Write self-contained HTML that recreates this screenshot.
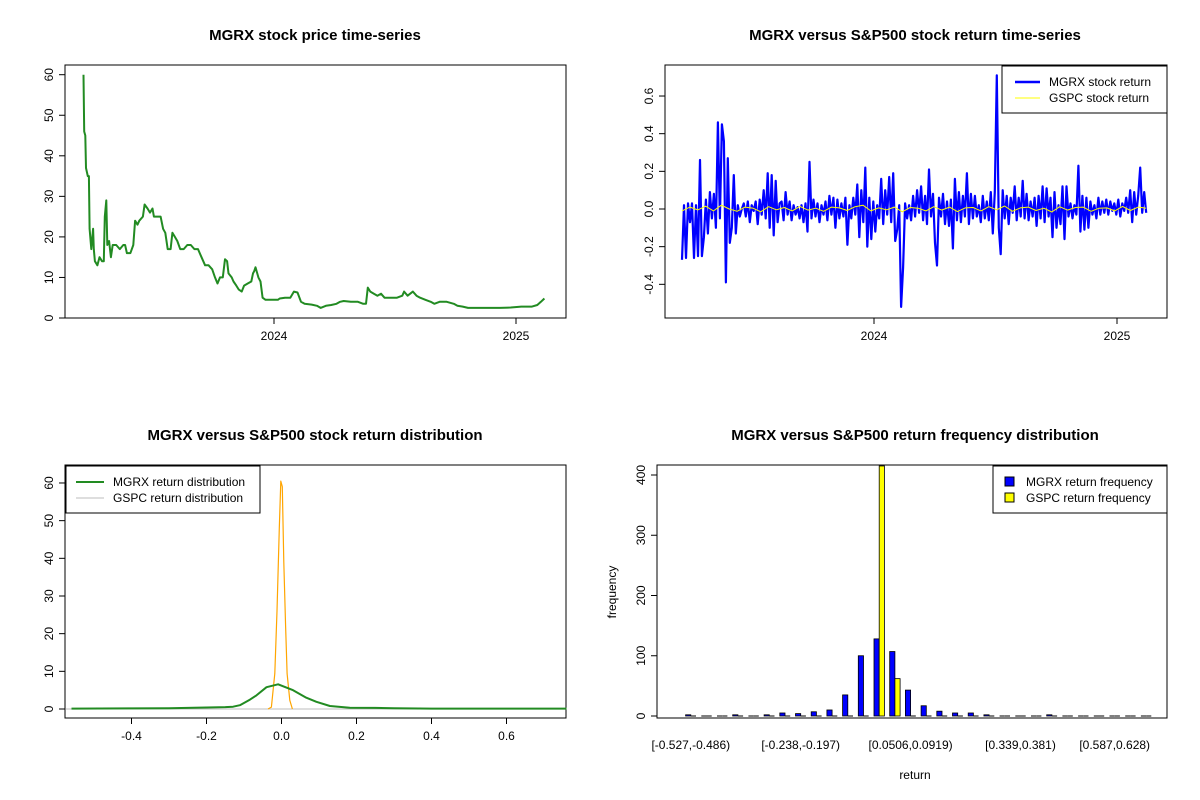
<!DOCTYPE html>
<html><head><meta charset="utf-8"><style>
html,body{margin:0;padding:0;background:#fff}
svg{display:block;font-family:"Liberation Sans",Arial,sans-serif}
</style></head><body>
<svg id="chart" width="1200" height="800" viewBox="0 0 1200 800" xmlns="http://www.w3.org/2000/svg">
<rect x="0" y="0" width="1200" height="800" fill="#fff"/>
<text x="315" y="40" text-anchor="middle" font-size="15" font-weight="bold">MGRX stock price time-series</text>
<text x="915" y="40" text-anchor="middle" font-size="15" font-weight="bold">MGRX versus S&amp;P500 stock return time-series</text>
<text x="315" y="440" text-anchor="middle" font-size="15" font-weight="bold">MGRX versus S&amp;P500 stock return distribution</text>
<text x="915" y="440" text-anchor="middle" font-size="15" font-weight="bold">MGRX versus S&amp;P500 return frequency distribution</text>
<g id="p1"></g>
<g id="p2"></g>
<g id="p3"></g>
<g id="p4"></g>
</svg>
<script>
// ---- Price series (zoom-x position converted to year, price) ----
const priceYearPos = [148,150,153,155,160,163,165,170,175,177,180,187,193,200,205,208,212,215,220,225,230,240,250,260,265,270,280,288,293,300,305,315,320,328,335,342,346,355,365,372,378,385,393,398,405,412,420,430,440,450,460,470,480,490,500,510,518,525,532,540,546,552,556,565,570,578,585,593,600,610,620,625,628,632,640,646,652,660,670,680,695,700,715,730,740,750,760,770,790,805,815,830,845,860,870,880,900,920,935,943,948,955,965,975,985,995,1010,1030,1045,1050,1060,1075,1085,1095,1110,1125,1135,1150,1170,1190,1200,1215,1230,1260,1290,1320,1350,1380,1410,1425,1435,1445];
const priceValues = [60,46,45,37,35,35,22,17,22,17,14,13,15,14,14,25,29,18,19,15,18,18,17,18,18,16,16,18,24,23,24,25,28,27,26,27,25,25,25,22,21,17,17,21,20,19,17,17,18,18,17,17,15,13,13,12,10,8.5,10,10,14.5,14,11,10,9,8,7,6.5,8,8.5,9,11,11.5,12.5,10,9,5,4.5,4.5,4.5,4.5,4.8,5,5,6.5,6.3,4,3.5,3.3,3,2.5,3,3.2,3.5,4,4.2,4,4,3.5,3.5,7.5,6.5,6,5.5,6,5,5,5,5.5,6.5,5.5,6.5,5.5,5,4.5,4,3.5,4,4,3.5,3,2.8,2.5,2.5,2.5,2.5,2.6,2.8,2.8,3.2,4,4.8];
const priceYTicks = [0,10,20,30,40,50,60];
const yearTicks = [2024,2025];
// ---- Return series ----
const mgrxReturns = [-0.27,0.02,-0.26,0.03,-0.07,0.03,-0.26,0.02,-0.25,0.26,-0.25,-0.15,0.05,-0.13,0.09,-0.05,0.08,-0.1,0.46,-0.05,0.45,0.36,-0.39,0.27,-0.18,-0.1,0.18,-0.13,0.02,-0.04,0.0,0.03,-0.04,0.04,-0.07,0.02,-0.01,0.04,-0.08,0.05,-0.03,0.1,-0.05,0.19,-0.1,0.18,-0.14,0.15,-0.07,0.03,0.04,-0.06,0.09,-0.03,0.04,-0.06,0.02,-0.03,0.01,-0.05,0.02,-0.07,0.03,-0.12,0.25,-0.05,0.05,-0.04,0.03,-0.07,0.02,-0.03,0.04,-0.06,0.07,-0.03,0.06,-0.1,0.05,-0.05,0.03,-0.04,0.06,-0.19,0.02,-0.05,0.06,-0.03,0.13,-0.15,0.1,-0.07,0.22,-0.2,0.06,-0.16,0.04,-0.12,0.02,-0.05,0.16,-0.08,0.1,-0.03,0.17,-0.07,0.19,-0.17,-0.11,0.02,-0.52,-0.31,0.03,-0.05,0.02,-0.06,0.07,-0.04,0.1,-0.02,0.12,-0.06,0.07,-0.08,0.21,-0.04,0.08,-0.18,-0.3,0.06,-0.04,0.08,-0.08,0.04,-0.09,0.05,-0.21,0.16,-0.06,0.09,-0.07,0.07,-0.04,0.19,-0.08,0.08,-0.05,0.07,-0.04,0.02,-0.07,0.07,-0.05,0.04,-0.06,0.09,-0.13,0.09,0.71,-0.1,-0.24,0.1,-0.05,0.07,-0.08,0.06,-0.02,0.12,-0.06,0.06,-0.04,0.15,-0.05,0.08,-0.06,0.04,-0.04,0.06,-0.09,0.07,-0.05,0.12,-0.07,0.11,-0.04,0.06,-0.15,0.09,-0.1,0.02,-0.08,0.12,-0.16,0.12,-0.04,0.03,-0.05,0.02,-0.03,0.23,-0.12,0.07,-0.11,0.06,-0.1,0.04,-0.03,0.02,-0.05,0.06,-0.03,0.04,-0.02,0.05,-0.03,0.04,-0.01,0.03,-0.03,0.05,-0.04,0.03,-0.01,0.06,-0.02,0.1,-0.07,0.09,-0.03,0.07,0.22,-0.02,0.09,-0.02];
const gspcReturns = [-0.01,0.01,-0.005,0.015,-0.01,0.02,0.0,-0.012,0.01,0.005,-0.015,0.012,-0.004,0.008,-0.01,0.014,-0.006,0.004,-0.012,0.01,0.006,-0.008,0.012,0.02,-0.01,0.006,-0.004,0.01,-0.015,0.008,0.004,-0.01,0.012,-0.006,0.01,-0.014,0.006,0.008,-0.01,0.012,-0.004,0.016,-0.012,0.006,0.01,-0.008,0.004,-0.016,0.012,-0.006,0.008,0.01,-0.012,0.004,0.006,-0.01,0.014,-0.008,0.01,0.004];
const returnYTicks = [-0.4,-0.2,0.0,0.2,0.4,0.6];
const returnStartYear = 2023.21, returnEndYear = 2025.12;
// ---- Density ----
const mgrxDensX = [-0.56,-0.4,-0.3,-0.2,-0.15,-0.129,-0.111,-0.084,-0.067,-0.04,-0.009,0.031,0.066,0.093,0.129,0.182,0.25,0.3,0.4,0.6,0.76];
const mgrxDensY = [0.1,0.15,0.2,0.4,0.5,0.6,1.0,2.5,3.6,5.8,6.55,5.0,3.0,1.9,0.8,0.35,0.3,0.2,0.1,0.1,0.1];
const gspcDensX = [-0.036,-0.027,-0.018,-0.012,-0.006,-0.002,0.002,0.006,0.011,0.015,0.022,0.029];
const gspcDensY = [0,0.5,9.4,26,48,60.5,59,39,22,9.4,2.3,0];
const densXTicks = [-0.4,-0.2,0.0,0.2,0.4,0.6];
const densYTicks = [0,10,20,30,40,50,60];
// ---- Histogram ----
const binLabels = ["[-0.527,-0.486)","[-0.238,-0.197)","[0.0506,0.0919)","[0.339,0.381)","[0.587,0.628)"];
const binLabelIdx = [0,7,14,21,27];
const mgrxFreq = [2,0,0,2,0,2,5,4,7,10,35,100,128,107,43,17,8,5,5,2,0,0,0,2,0,0,0,0,0,0];
const gspcFreq = [0,0,0,0,0,0,0,0,0,0,0,0,420,62,0,0,0,0,0,0,0,0,0,0,0,0,0,0,0,0];
const histYTicks = [0,100,200,300,400];

const NS="http://www.w3.org/2000/svg";
function mk(parent,tag,attrs,txt){const e=document.createElementNS(NS,tag);for(const k in attrs)e.setAttribute(k,attrs[k]);if(txt!==undefined)e.textContent=txt;parent.appendChild(e);return e;}
function box(g,x0,y0,x1,y1){const r=mk(g,'rect',{x:x0,y:y0,width:x1-x0,height:y1-y0,fill:'none',stroke:'#000','stroke-width':1});

}
function yAxis(g,ticks,sy,xl,fmt){ticks.forEach(t=>{const y=sy(t);const l=mk(g,'line',{x1:xl-6,x2:xl,y1:y,y2:y,stroke:'#000'});


const tx=mk(g,'text',{x:xl-12,y:y,'font-size':12,'text-anchor':'middle',transform:`rotate(-90 ${xl-12} ${y})`},fmt(t));

});
const ax=mk(g,'line',{x1:xl,x2:xl,y1:sy(ticks[0]),y2:sy(ticks[ticks.length-1]),stroke:'#000'});

}
function xAxis(g,ticks,sx,yb,fmt,line){ticks.forEach(t=>{const x=sx(t);const l=mk(g,'line',{x1:x,x2:x,y1:yb,y2:yb+6,stroke:'#000'});


const tx=mk(g,'text',{x:x,y:yb+22,'font-size':12,'text-anchor':'middle'},fmt(t));

});
if(line){const ax=mk(g,'line',{x1:sx(ticks[0]),x2:sx(ticks[ticks.length-1]),y1:yb,y2:yb,stroke:'#000'});

}}
function path(g,xs,ys,sx,sy,color,w,name){const d=xs.map((v,i)=>(i?'L':'M')+sx(v).toFixed(1)+','+sy(ys[i]).toFixed(1)).join('');
const p=mk(g,'path',{d:d,fill:'none',stroke:color,'stroke-width':w,'stroke-linejoin':'round'});

return p;}
function bar(g,x,v,w,sy,fill,name){let e;
if(v<=0){e=mk(g,'line',{x1:x,x2:x+w,y1:sy(0),y2:sy(0),stroke:'#000','stroke-width':1});}
else{e=mk(g,'rect',{x:x,y:sy(v),width:w,height:sy(0)-sy(v),fill:fill,stroke:'#000','stroke-width':0.8});}

}

// Panel 1
(function(){const g=document.getElementById('p1');
const sx=y=>274+(y-2024)*242, sy=v=>318-v*(243.3/60);
box(g,65,65,566,318);
const years=priceYearPos.map(z=>2024+(z-684)/681);
path(g,years,priceValues,sx,sy,'#228B22',2,'mgrx-price-line');
yAxis(g,priceYTicks,sy,65,t=>String(t));
xAxis(g,yearTicks,sx,318,t=>String(t),false);})();

// Panel 2
(function(){const g=document.getElementById('p2');
const sx=y=>874+(y-2024)*243, sy=v=>209-v*188.3;
box(g,665,65,1167,318);
const n=mgrxReturns.length;const dm=mgrxReturns.map((_,i)=>returnStartYear+(returnEndYear-returnStartYear)*i/(n-1));
path(g,dm,mgrxReturns,sx,sy,'#0000FF',2.2,'mgrx-return-line');
const m=gspcReturns.length;const dg=gspcReturns.map((_,i)=>returnStartYear+(returnEndYear-returnStartYear)*i/(m-1));
path(g,dg,gspcReturns,sx,sy,'#FFFF00',1,'gspc-return-line');
yAxis(g,returnYTicks,sy,665,t=>t.toFixed(1));
xAxis(g,yearTicks,sx,318,t=>String(t),false);
const lg=mk(g,'g',{});


mk(lg,'rect',{x:1002,y:66,width:165,height:47,fill:'#fff',stroke:'#000'});
mk(lg,'line',{x1:1015,x2:1040,y1:82,y2:82,stroke:'#0000FF','stroke-width':2.5});
mk(lg,'line',{x1:1015,x2:1040,y1:98,y2:98,stroke:'#FFFF00','stroke-width':1});
mk(lg,'text',{x:1049,y:86,'font-size':12},'MGRX stock return');
mk(lg,'text',{x:1049,y:102,'font-size':12},'GSPC stock return');})();

// Panel 3
(function(){const g=document.getElementById('p3');
const sx=v=>281.5+v*375, sy=v=>709-v*3.767;
box(g,65,465,566,718);
const z=mk(g,'line',{x1:66,x2:565,y1:sy(0),y2:sy(0),stroke:'#bebebe'});


path(g,gspcDensX,gspcDensY,sx,sy,'#FFA500',1.2,'gspc-density-line');
path(g,mgrxDensX,mgrxDensY,sx,sy,'#228B22',2,'mgrx-density-line');
yAxis(g,densYTicks,sy,65,t=>String(t));
xAxis(g,densXTicks,sx,718,t=>t.toFixed(1),true);
const lg=mk(g,'g',{});


mk(lg,'rect',{x:66,y:466,width:194,height:47,fill:'#fff',stroke:'#000'});
mk(lg,'line',{x1:76,x2:104,y1:482,y2:482,stroke:'#228B22','stroke-width':2});
mk(lg,'line',{x1:76,x2:104,y1:498,y2:498,stroke:'#bebebe','stroke-width':1});
mk(lg,'text',{x:113,y:486,'font-size':12},'MGRX return distribution');
mk(lg,'text',{x:113,y:502,'font-size':12},'GSPC return distribution');})();

// Panel 4
(function(){const g=document.getElementById('p4');
const sy=v=>716-Math.min(v,415)*0.6025, pitch=15.7, unit=5.2, x0=685.6;
box(g,657,465,1167,718);
mgrxFreq.forEach((v,i)=>bar(g,x0+i*pitch,v,unit,sy,'#0000FF','mgrx-bar'));
gspcFreq.forEach((v,i)=>bar(g,x0+i*pitch+unit,v,unit,sy,'#FFFF00','gspc-bar'));
yAxis(g,histYTicks,sy,657,t=>String(t));
binLabelIdx.forEach((b,k)=>{const t=mk(g,'text',{x:x0+b*pitch+unit,y:749,'font-size':12,'text-anchor':'middle'},binLabels[k]);

});
const xl=mk(g,'text',{x:915,y:779,'font-size':12,'text-anchor':'middle'},'return');


const yl=mk(g,'text',{x:616,y:592,'font-size':12,'text-anchor':'middle',transform:'rotate(-90 616 592)'},'frequency');


const lg=mk(g,'g',{});


mk(lg,'rect',{x:993,y:466,width:174,height:47,fill:'#fff',stroke:'#000'});
mk(lg,'rect',{x:1005,y:477,width:9,height:9,fill:'#0000FF',stroke:'#000'});
mk(lg,'rect',{x:1005,y:493,width:9,height:9,fill:'#FFFF00',stroke:'#000'});
mk(lg,'text',{x:1026,y:486,'font-size':12},'MGRX return frequency');
mk(lg,'text',{x:1026,y:502,'font-size':12},'GSPC return frequency');})();
</script>
</body></html>
